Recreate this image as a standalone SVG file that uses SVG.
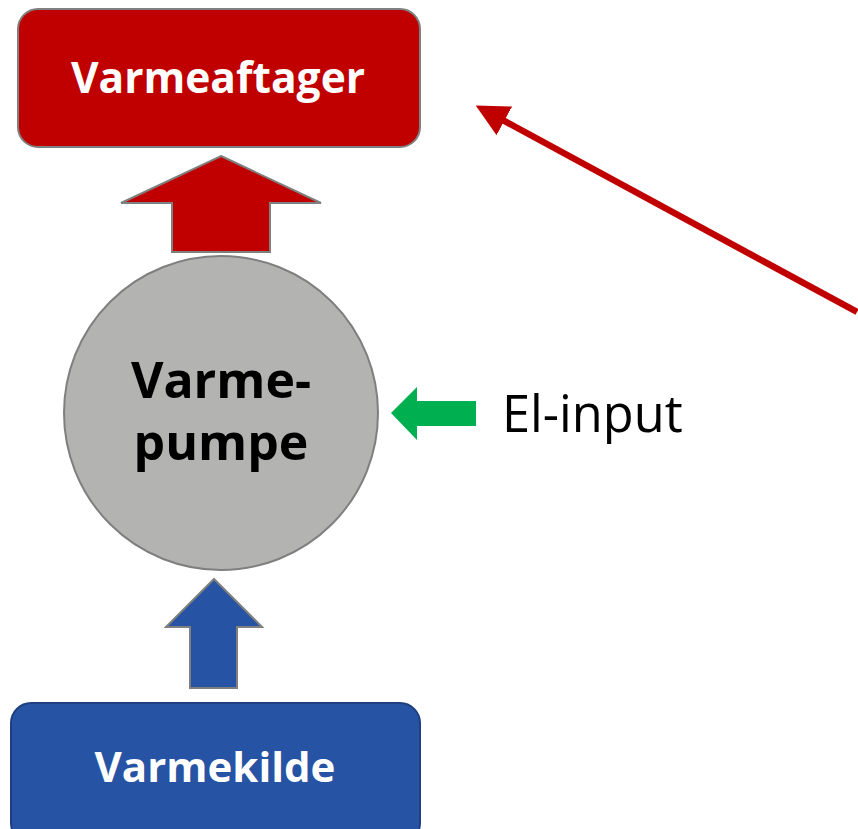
<svg xmlns="http://www.w3.org/2000/svg" width="858" height="829" viewBox="0 0 858 829">
<style>
.lbl{font-family:"Open Sans","Noto Sans","Liberation Sans",sans-serif;font-weight:bold;text-anchor:middle}
.w{fill:#ffffff}
.blk{fill:#000000}
.outl{stroke:#7f7f7f;stroke-width:2}
</style>
<defs>
<marker id="ah" markerWidth="5" markerHeight="5" refX="3.2" refY="2.5" orient="auto" markerUnits="strokeWidth">
<path d="M0,0 L5,2.5 L0,5 Z" fill="#c00000"/>
</marker>
</defs>
<rect width="858" height="829" fill="#ffffff"/>
<g id="varmeaftager">
<rect x="18" y="9" width="402" height="138" rx="20" fill="#c00000" class="outl"/>
<text x="218" y="93" class="lbl w" font-size="42.5">Varmeaftager</text>
</g>
<g id="varmepumpe">
<circle cx="221" cy="413" r="157" fill="#b3b4b2" class="outl"/>
<text x="221" y="398" class="lbl blk" font-size="50">Varme-</text>
<text x="221" y="460" class="lbl blk" font-size="50">pumpe</text>
</g>
<g id="varmekilde">
<rect x="11" y="703" width="409" height="140" rx="20" fill="#2653a3" stroke="#1f3f80" stroke-width="2"/>
<text x="215" y="782" class="lbl w" font-size="42">Varmekilde</text>
</g>
<g id="el-input">
<text x="502" y="432" font-family="'Open Sans','Noto Sans','Liberation Sans',sans-serif" font-size="50.5" fill="#000000">El-input</text>
</g>
<g id="connectors">
<polygon points="221,156 321,203 270,203 270,252 172,252 172,203 121,203" fill="#c00000" class="outl"/>
<polygon points="214,579 262,627 237,627 237,688 190,688 190,627 166,627" fill="#2653a3" class="outl"/>
<polygon points="391,413 417,387 417,401 476,401 476,426 417,426 417,440" fill="#00b050"/>
<line x1="857" y1="312" x2="486" y2="111" stroke="#c00000" stroke-width="6.5" marker-end="url(#ah)"/>
</g>
</svg>
